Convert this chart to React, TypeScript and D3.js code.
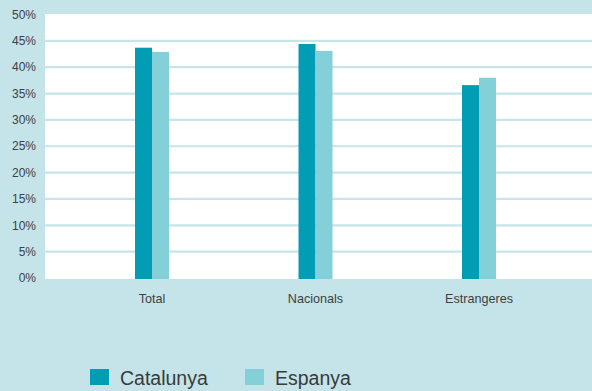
import React from "react";
import * as d3 from "d3";

const categories = ["Total", "Nacionals", "Estrangeres"];
const seriesNames = ["Catalunya", "Espanya"];
const catalunya = [43.7, 44.4, 36.6];
const espanya = [42.9, 43.1, 38.0];
const yTicks = [0, 5, 10, 15, 20, 25, 30, 35, 40, 45, 50];

const W = 592;
const H = 391;
const colors = ["#009db4", "#84d0d9"];
const bg = "#c4e4e9";
const grid = "#c6e5ea";

export default function App() {
  const plotLeft = 45;
  const plotRight = 592;
  const plotTop = 14;
  const plotBottom = 279;

  const y = d3.scaleLinear().domain([0, 50]).range([278, 14.5]);
  const x = d3.scaleBand<string>().domain(categories).range([70.25, 560.75]).padding(0);
  const inner = d3.scaleBand<string>().domain(seriesNames).range([-17, 17]).padding(0);
  const series = [catalunya, espanya];

  return (
    <svg
      width={W}
      height={H}
      style={{ position: "absolute", left: 0, top: 0, display: "block" }}
      fontFamily="'Liberation Sans', Arial, Helvetica, sans-serif"
    >
      <rect x={0} y={0} width={W} height={H} fill={bg} />
      <rect x={plotLeft} y={plotTop} width={plotRight - plotLeft} height={plotBottom - plotTop} fill="#ffffff" />
      {yTicks.filter((t) => t > 0 && t < 50).map((t) => (
        <line key={t} x1={plotLeft} x2={plotRight} y1={y(t)} y2={y(t)} stroke={grid} strokeWidth={2.2} />
      ))}
      {yTicks.map((t) => (
        <text key={"l" + t} x={36} y={y(t)} dy="0.35em" textAnchor="end" fontSize={12} fill="#404040">
          {t + "%"}
        </text>
      ))}
      {categories.map((c, i) => {
        const cx = (x(c) as number) + x.bandwidth() / 2;
        return (
          <g key={c}>
            {seriesNames.map((s, j) => (
              <rect
                key={s}
                x={cx + (inner(s) as number)}
                y={y(series[j][i])}
                width={inner.bandwidth()}
                height={y(0) - y(series[j][i]) + 1}
                fill={colors[j]}
              />
            ))}
            <text x={cx} y={303} textAnchor="middle" fontSize={12.6} fill="#404040">
              {c}
            </text>
          </g>
        );
      })}
      {seriesNames.map((s, j) => {
        const lx = [90, 245][j];
        return (
          <g key={"lg" + s}>
            <rect x={lx} y={369} width={19} height={16} fill={colors[j]} />
            <text x={lx + 30} y={385} fontSize={19.5} fill="#3a3a3a">
              {s}
            </text>
          </g>
        );
      })}
    </svg>
  );
}
